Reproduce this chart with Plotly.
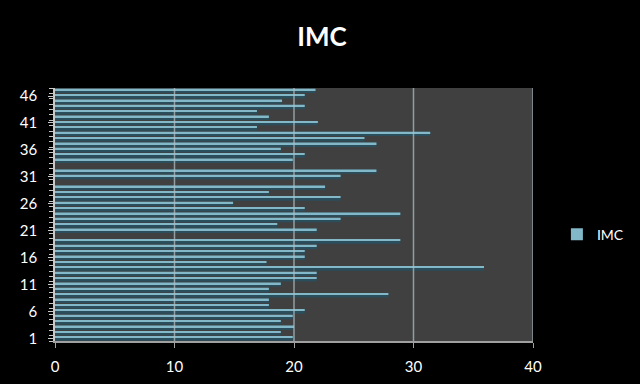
import plotly.graph_objects as go

categories = list(range(1, 48))
imc = [19.9, 18.9, 20.0, 18.9, 19.9, 20.9, 17.9, 17.9, 27.9, 17.9,
       18.9, 21.9, 21.9, 35.9, 17.7, 20.9, 20.9, 21.9, 28.9, 0,
       21.9, 18.6, 23.9, 28.9, 20.9, 14.9, 23.9, 17.9, 22.6, 0,
       23.9, 26.9, 0, 19.9, 20.9, 18.9, 26.9, 25.9, 31.4, 16.9,
       22.0, 17.9, 16.9, 20.9, 19.0, 20.9, 21.8]
x_ticks = [0, 10, 20, 30, 40]
y_ticks = [1, 6, 11, 16, 21, 26, 31, 36, 41, 46]

FONT = "Lato, 'Open Sans', sans-serif"

fig = go.Figure()
fig.add_trace(go.Bar(
    x=imc, y=categories, orientation="h", name="IMC", showlegend=False,
    marker=dict(color="#2a4e5b", line=dict(width=0)),
    width=0.82, offset=-0.44, hoverinfo="skip"))
fig.add_trace(go.Bar(
    x=imc, y=categories, orientation="h", name="IMC", showlegend=True,
    marker=dict(color="#82b8c8", line=dict(width=0)),
    width=0.3, offset=0.08))

shapes = []
for gx in [10, 20, 30, 40]:
    shapes.append(dict(type="line", xref="x", yref="paper", x0=gx, x1=gx, y0=0, y1=1,
                       line=dict(color="rgba(175,190,195,0.75)", width=1.5), layer="above"))

fig.update_layout(
    width=640, height=384,
    paper_bgcolor="black", plot_bgcolor="#404040",
    barmode="overlay",
    margin=dict(l=55, r=107, t=88, b=43, autoexpand=False),
    title=dict(text="<b>IMC</b>", x=0.503, xanchor="center", y=0.905, yanchor="middle",
               font=dict(family=FONT, size=26, color="white")),
    font=dict(family=FONT, color="white", size=14),
    showlegend=True,
    legend=dict(x=1.05, y=0.42, xanchor="left", yanchor="middle",
                itemwidth=30,
                font=dict(family=FONT, size=14, color="white"),
                bgcolor="rgba(0,0,0,0)"),
    shapes=shapes,
    xaxis=dict(range=[0, 40], tickvals=x_ticks, ticktext=[str(v) for v in x_ticks],
               showgrid=False, zeroline=False, showline=True, linecolor="#a0a0a0",
               linewidth=1.5, ticks="outside", ticklen=5, tickcolor="#a0a0a0",
               ticklabelstandoff=6,
               tickfont=dict(size=15, color="white")),
    yaxis=dict(range=[0.5, 47.5], tickvals=y_ticks, ticktext=[str(v) for v in y_ticks],
               showgrid=False, zeroline=False, showline=True, linecolor="#c8c8c8",
               linewidth=1.5, ticks="outside", ticklen=5, tickcolor="#c8c8c8",
               ticklabelstandoff=8,
               tickfont=dict(size=15, color="white"),
               minor=dict(dtick=1, tick0=0.5, ticks="outside", ticklen=4, tickcolor="#c8c8c8")),
)

fig.write_html("out.html")
